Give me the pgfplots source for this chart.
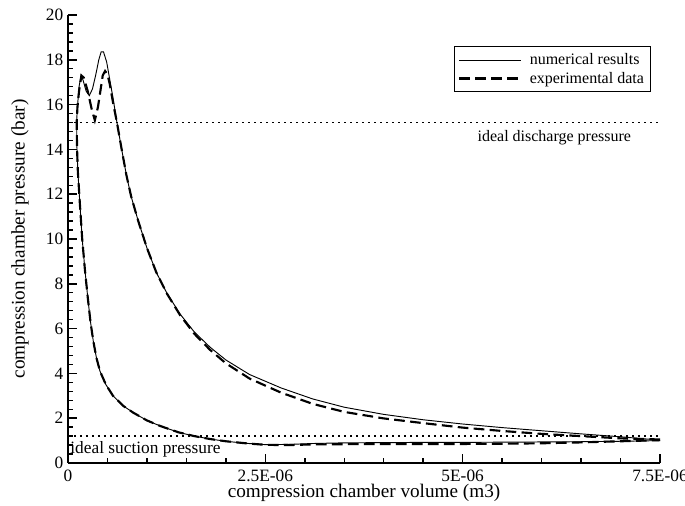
\documentclass[border=0pt]{standalone}
\usepackage{fontspec}
\setmainfont{Liberation Serif}
\usepackage{pgfplots}
\pgfplotsset{compat=1.18}

% loop, volume in 1E-06 m3, pressure in bar
\pgfplotstableread{
v p
7.5 1.02
7.0 1.17
6.5 1.30
6.0 1.44
5.5 1.58
5.0 1.74
4.5 1.93
4.0 2.17
3.5 2.49
3.1 2.86
2.7 3.35
2.3 3.95
2.0 4.6
1.8 5.17
1.6 5.85
1.42 6.65
1.25 7.6
1.12 8.5
1.0 9.6
0.89 10.8
0.8 11.9
0.74 12.85
0.68 14.0
0.62 15.2
0.57 16.3
0.53 17.1
0.49 17.9
0.45 18.35
0.42 18.35
0.39 18.0
0.35 17.3
0.31 16.7
0.27 16.4
0.23 16.6
0.19 17.1
0.165 17.3
0.14 16.8
0.12 15.9
0.11 15.3
0.112 14.2
0.125 13.0
0.15 11.6
0.18 10.0
0.215 8.6
0.25 7.4
0.285 6.3
0.32 5.45
0.36 4.7
0.405 4.1
0.48 3.5
0.57 3.0
0.7 2.55
0.83 2.24
1.0 1.9
1.17 1.65
1.4 1.37
1.6 1.2
1.8 1.07
2.0 0.97
2.25 0.88
2.5 0.82
2.8 0.83
3.1 0.87
3.5 0.9
4.0 0.91
4.5 0.92
5.0 0.92
5.5 0.93
6.0 0.94
6.5 0.95
7.0 0.97
7.5 1.0
}\numres

\pgfplotstableread{
v p
7.5 1.05
7.0 1.1
6.5 1.2
6.0 1.3
5.5 1.43
5.0 1.58
4.5 1.78
4.0 1.99
3.5 2.28
3.1 2.64
2.7 3.14
2.3 3.77
2.0 4.45
1.8 5.05
1.6 5.77
1.42 6.6
1.25 7.58
1.12 8.5
1.0 9.6
0.89 10.8
0.8 11.9
0.74 12.85
0.68 14.0
0.62 15.2
0.57 16.1
0.53 16.9
0.5 17.35
0.47 17.5
0.44 17.3
0.41 16.6
0.38 15.9
0.34 15.3
0.30 15.8
0.25 16.6
0.2 17.2
0.17 17.3
0.14 16.6
0.12 15.9
0.11 15.2
0.115 14.0
0.125 13.0
0.15 11.6
0.18 10.0
0.215 8.6
0.25 7.4
0.285 6.3
0.32 5.45
0.36 4.7
0.405 4.1
0.48 3.5
0.57 3.0
0.7 2.55
0.83 2.24
1.0 1.9
1.17 1.65
1.4 1.37
1.6 1.2
1.8 1.07
2.0 0.97
2.25 0.88
2.5 0.81
2.8 0.8
3.1 0.83
3.5 0.84
4.0 0.84
4.5 0.84
5.0 0.85
5.5 0.86
6.0 0.88
6.5 0.92
7.0 0.97
7.5 1.02
}\expdata

\begin{document}
\begin{tikzpicture}
\begin{axis}[
  name=ax,
  scale only axis,
  width=444pt, height=336pt,
  xmin=0, xmax=7.5, ymin=0, ymax=20,
  axis x line=bottom, axis y line=left,
  axis line style={-, line width=1.4pt},
  tick align=inside,
  major tick length=7pt, minor tick length=4pt,
  every tick/.style={black, line width=1.1pt},
  xtick={0,2.5,5,7.5},
  xticklabels={0,2.5E-06,5E-06,7.5E-06},
  ytick={0,2,...,20},
  minor x tick num=4, minor y tick num=4,
  ticklabel style={font=\fontsize{13}{15}\selectfont},
  xticklabel style={inner sep=1pt, yshift=-4pt},
  /pgf/number format/assume math mode=true,
  xlabel={compression chamber volume (m3)},
  ylabel={compression chamber pressure (bar)},
  label style={font=\fontsize{14.4}{17}\selectfont},
  xlabel style={at={(axis description cs:0.5,0)}, anchor=center, inner sep=0pt, yshift=-22.5pt},
  ylabel style={yshift=6pt},
  legend style={at={(0.985,0.93)}, anchor=north east, draw=black, line width=0.8pt,
    font=\fontsize{12}{15}\selectfont, row sep=0pt, inner sep=3pt},
  legend cell align=left,
  legend image code/.code={\draw[#1] (0pt,0pt) -- (46pt,0pt);},
  clip=false,
]
\addplot[black, line width=0.7pt] table[x=v, y=p] \numres;
\addlegendentry{\hspace{4pt}numerical results}
\addplot[black, line width=1.6pt, dash pattern=on 8pt off 4pt] table[x=v, y=p] \expdata;
\addlegendentry{\hspace{4pt}experimental data}
\addplot[black, line width=1.3pt, dash pattern=on 1.3pt off 3.2pt, forget plot] coordinates {(0,15.2) (7.5,15.2)};
\addplot[black, line width=1.3pt, dash pattern=on 1.3pt off 3.2pt, forget plot] coordinates {(0,1.2) (7.5,1.2)};
\node[anchor=north east, font=\fontsize{12}{14}\selectfont, inner sep=2pt] at (axis cs:7.17,15.0) {ideal discharge pressure};
\node[anchor=north west, font=\fontsize{13}{15}\selectfont, inner sep=1pt] at (axis cs:0.01,1.05) {ideal suction pressure};
\end{axis}
\pgfresetboundingbox
\path ([shift={(-51pt,-32.25pt)}]ax.south west) rectangle ([shift={(462.75pt,347.25pt)}]ax.south west);
\end{tikzpicture}
\end{document}
